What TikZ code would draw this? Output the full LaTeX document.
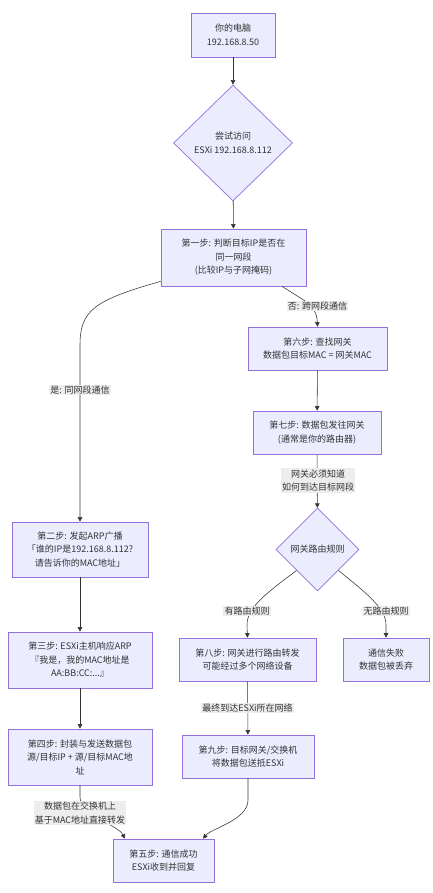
\documentclass[tikz,border=0pt]{standalone}
\usepackage{fontspec}
\setmainfont{Noto Sans CJK SC}
\usetikzlibrary{shapes.geometric,arrows.meta}
\definecolor{nodefill}{HTML}{ECECFF}
\definecolor{nodedraw}{HTML}{9370DB}
\definecolor{txt}{HTML}{333333}
\definecolor{edgecol}{HTML}{333333}
\definecolor{labelbg}{HTML}{EDEDED}
\tikzset{
  box/.style={draw=nodedraw, fill=nodefill, line width=0.7pt, inner sep=0pt, align=center,
    text=txt, font=\fontsize{9}{13.5}\selectfont},
  dia/.style={box, diamond, aspect=1},
  elabel/.style={fill=labelbg, inner sep=1.2pt, align=center, text=txt,
    font=\fontsize{9}{13.5}\selectfont},
  conn/.style={draw=edgecol, line width=0.55pt, -{Triangle[length=4.5pt,width=4.5pt]}},
}
\begin{document}
\begin{tikzpicture}[x=1pt,y=-1pt]
\useasboundingbox[fill=white] (0,0) rectangle (433,893);
% nodes
\node[box, minimum width=84pt, minimum height=44pt] (A) at (233,35) {你的电脑\\192.168.8.50};
\node[dia, minimum width=119pt, minimum height=116pt] (B) at (233,143) {尝试访问\\ESXi 192.168.8.112};
\node[box, minimum width=145pt, minimum height=57pt] (C) at (233.5,257.5) {第一步: 判断目标IP是否在\\同一网段\\(比较IP与子网掩码)};
\node[box, minimum width=139pt, minimum height=43pt] (F) at (317.5,348.5) {第六步: 查找网关\\数据包目标MAC = 网关MAC};
\node[box, minimum width=128pt, minimum height=43pt] (G) at (317,432.5) {第七步: 数据包发往网关\\(通常是你的路由器)};
\node[dia, minimum width=83pt, minimum height=83pt] (H) at (317.5,549.5) {网关路由规则};
\node[box, minimum width=137pt, minimum height=43pt] (I) at (247.5,659.5) {第八步: 网关进行路由转发\\可能经过多个网络设备};
\node[box, minimum width=86pt, minimum height=43pt] (J) at (386,659.5) {通信失败\\数据包被丢弃};
\node[box, minimum width=132pt, minimum height=43pt] (K) at (248,756.5) {第九步: 目标网关/交换机\\将数据包送抵ESXi};
\node[box, minimum width=136pt, minimum height=55pt] (D) at (80,549.5) {第二步: 发起ARP广播\\「谁的IP是192.168.8.112?\\请告诉你的MAC地址」};
\node[box, minimum width=144pt, minimum height=56pt] (E) at (80,660) {第三步: ESXi主机响应ARP\\『我是，我的MAC地址是\\AA:BB:CC:...』};
\node[box, minimum width=144pt, minimum height=56pt] (L) at (80,757) {第四步: 封装与发送数据包\\源/目标IP + 源/目标MAC地\\址};
\node[box, minimum width=101pt, minimum height=43pt] (M) at (163.5,860.5) {第五步: 通信成功\\ESXi收到并回复};
% connectors
\draw[conn] (A) -- (B);
\draw[conn] (B) -- (C);
\draw[conn] ([yshift=5pt]C.south west) .. controls (95,300) and (80,310) .. (80,345) -- (D.north);
\draw[conn] ([xshift=48.5pt]C.south) -- (302,299) .. controls (312,305) and (317,312) .. (F.north);
\draw[conn] (F) -- (G);
\draw[conn] (G) -- (H);
\draw[conn] (H.south west) .. controls (265,594) and (247,608) .. (247,625) -- (I.north);
\draw[conn] (H.south east) .. controls (365,592) and (386,608) .. (386,625) -- (J.north);
\draw[conn] (I) -- (K);
\draw[conn] (D) -- (E);
\draw[conn] (E) -- (L);
\draw[conn] (L.south) -- (80,797) .. controls (80,815) and (118,825) .. ([xshift=-38.5pt]M.north);
\draw[conn] (K.south) -- (248,800) .. controls (248,820) and (212,828) .. ([xshift=39.5pt]M.north);
% edge labels
\node[elabel] (lno) at (317.5,306) {否: 跨网段通信};
\node[elabel] (lyes) at (80,390) {是: 同网段通信};
\node[elabel] (lgw) at (318,480.5) {网关必须知道\\如何到达目标网段};
\node[elabel] (lhas) at (247,611) {有路由规则};
\node[elabel] (lnone) at (386,611) {无路由规则};
\node[elabel] (lfinal) at (247.5,708) {最终到达ESXi所在网络};
\node[elabel] (lsw) at (80,813) {数据包在交换机上\\基于MAC地址直接转发};
\end{tikzpicture}
\end{document}
